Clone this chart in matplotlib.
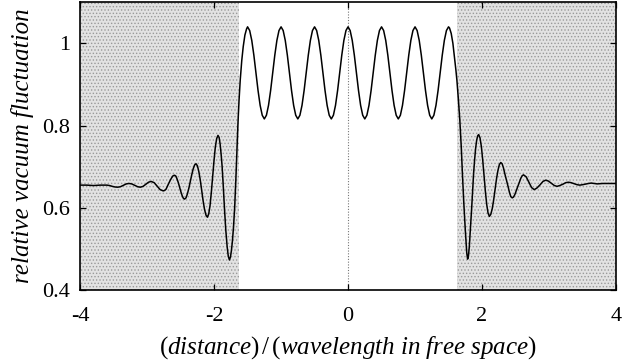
import matplotlib
matplotlib.use("Agg")
import matplotlib.pyplot as plt
import numpy as np

plt.rcParams['font.family'] = 'Liberation Serif'
plt.rcParams['mathtext.fontset'] = 'custom'
plt.rcParams['mathtext.rm'] = 'Liberation Serif'
plt.rcParams['mathtext.it'] = 'Liberation Serif:italic'
plt.rcParams['hatch.linewidth'] = 0.6

# left tail (outside the slab)
x_left = [-4.00, -3.90, -3.80, -3.70, -3.60, -3.56, -3.52, -3.48, -3.44,
          -3.40, -3.355, -3.31, -3.27, -3.23, -3.185, -3.14, -3.10,
          -3.06, -3.02, -2.98, -2.94, -2.895, -2.85, -2.805, -2.76,
          -2.739, -2.718, -2.696, -2.675, -2.654, -2.633, -2.611, -2.59,
          -2.571, -2.553, -2.534, -2.515, -2.496, -2.478, -2.459, -2.44,
          -2.419, -2.398, -2.376, -2.355, -2.334, -2.313, -2.291, -2.27,
          -2.249, -2.228, -2.206, -2.185, -2.164, -2.143, -2.121, -2.10,
          -2.080, -2.060, -2.041, -2.021, -2.001, -1.982, -1.962, -1.942,
          -1.925, -1.91, -1.895, -1.88, -1.862, -1.844, -1.825, -1.805, -1.788, -1.771,
          -1.756, -1.742, -1.727, -1.71, -1.693, -1.676, -1.66, -1.645, -1.628,
          -1.61, -1.587, -1.565, -1.54, -1.515]
y_left = [0.655, 0.655, 0.654, 0.655, 0.655, 0.654, 0.652, 0.6505, 0.650,
          0.651, 0.6545, 0.658, 0.659, 0.658, 0.6545, 0.651, 0.650,
          0.652, 0.657, 0.662, 0.664, 0.661, 0.6525, 0.644, 0.641,
          0.642, 0.645, 0.653, 0.660, 0.667, 0.673, 0.678, 0.679,
          0.677, 0.670, 0.661, 0.650, 0.639, 0.630, 0.623, 0.621,
          0.624, 0.634, 0.648, 0.664, 0.680, 0.694, 0.704, 0.707,
          0.702, 0.688, 0.667, 0.642, 0.617, 0.596, 0.582, 0.577,
          0.585, 0.606, 0.638, 0.6765, 0.715, 0.747, 0.768, 0.776,
          0.771, 0.755, 0.730, 0.700, 0.650, 0.595, 0.545, 0.505, 0.482, 0.473,
          0.480, 0.495, 0.518, 0.553, 0.600, 0.665, 0.735, 0.800, 0.860,
          0.910, 0.958, 0.992, 1.020, 1.035]

# inside the slab, sampled every 1/32 wavelength from -1.5 to 1.5
x_slab = np.linspace(-1.5, 1.5, 97)
y_slab = [1.040, 1.031, 1.007, 0.971, 0.928, 0.885, 0.849, 0.825,
          0.816, 0.825, 0.849, 0.885, 0.928, 0.971, 1.007, 1.031,
          1.040, 1.031, 1.007, 0.971, 0.928, 0.885, 0.849, 0.825,
          0.816, 0.825, 0.849, 0.885, 0.928, 0.971, 1.007, 1.031,
          1.040, 1.031, 1.007, 0.971, 0.928, 0.885, 0.849, 0.825,
          0.816, 0.825, 0.849, 0.885, 0.928, 0.971, 1.007, 1.031,
          1.040, 1.031, 1.007, 0.971, 0.928, 0.885, 0.849, 0.825,
          0.816, 0.825, 0.849, 0.885, 0.928, 0.971, 1.007, 1.031,
          1.040, 1.031, 1.007, 0.971, 0.928, 0.885, 0.849, 0.825,
          0.816, 0.825, 0.849, 0.885, 0.928, 0.971, 1.007, 1.031,
          1.040, 1.031, 1.007, 0.971, 0.928, 0.885, 0.849, 0.825,
          0.816, 0.825, 0.849, 0.885, 0.928, 0.971, 1.007, 1.031,
          1.040]

# right tail
x_right = [1.515, 1.54, 1.565, 1.59, 1.61, 1.625, 1.645, 1.669, 1.69, 1.708,
           1.728, 1.747, 1.762, 1.772, 1.785, 1.797, 1.81, 1.827, 1.844,
           1.86, 1.875, 1.89, 1.905, 1.92, 1.935, 1.95,
           1.97, 1.99, 2.01, 2.03, 2.05, 2.07, 2.09, 2.11,
           2.131, 2.153, 2.174, 2.195, 2.216, 2.238, 2.259, 2.28,
           2.30, 2.32, 2.34, 2.365, 2.39, 2.41, 2.43, 2.45,
           2.47, 2.49, 2.51, 2.535, 2.56, 2.58, 2.60, 2.62,
           2.66, 2.70, 2.74, 2.78, 2.82, 2.865, 2.91, 2.95,
           2.99, 3.035, 3.08, 3.12, 3.16, 3.205, 3.25, 3.29,
           3.33, 3.375, 3.42, 3.46, 3.50, 3.545, 3.59, 3.63,
           3.72, 3.80, 3.90, 4.00]
y_right = [1.037, 1.024, 1.000, 0.965, 0.935, 0.910, 0.868, 0.812, 0.748, 0.680,
           0.612, 0.555, 0.515, 0.490, 0.475, 0.482, 0.505, 0.548, 0.595,
           0.643, 0.685, 0.718, 0.745, 0.764, 0.775, 0.778,
           0.770, 0.749, 0.717, 0.679, 0.640, 0.608, 0.587, 0.579,
           0.584, 0.598, 0.619, 0.645, 0.670, 0.691, 0.705, 0.710,
           0.707, 0.697, 0.683, 0.667, 0.651, 0.637, 0.627, 0.624,
           0.626, 0.632, 0.641, 0.652, 0.663, 0.672, 0.678, 0.680,
           0.675, 0.662, 0.649, 0.644, 0.648, 0.6555, 0.664, 0.667,
           0.665, 0.6595, 0.654, 0.652, 0.654, 0.657, 0.661, 0.662,
           0.661, 0.6585, 0.656, 0.655, 0.656, 0.6575, 0.659, 0.660,
           0.658, 0.659, 0.659, 0.659]

slab_edges = [-1.625, 1.625]

x = np.concatenate([x_left, x_slab, x_right])
y = np.concatenate([y_left, y_slab, y_right])

fig = plt.figure(figsize=(6.26, 3.62), dpi=100)
ax = fig.add_axes([0.128, 0.199, 0.856, 0.795])

ax.axvspan(-4, slab_edges[0], facecolor='#e2e2e2', edgecolor='#9a9a9a',
           hatch='.....', linewidth=0, zorder=0)
ax.axvspan(slab_edges[1], 4, facecolor='#e2e2e2', edgecolor='#9a9a9a',
           hatch='.....', linewidth=0, zorder=0)
ax.axvline(0, color='#777777', linestyle=(0, (1, 1.5)), linewidth=0.8, zorder=1)

ax.plot(x, y, color='black', linewidth=1.1, zorder=3)

ax.set_xlim(-4, 4)
ax.set_ylim(0.4, 1.1)
ax.set_xticks([-4, -2, 0, 2, 4])
ax.set_xticklabels(['-4', '-2', '0', '2', '4'])
ax.set_yticks([0.4, 0.6, 0.8, 1.0])
ax.set_yticklabels(['0.4', '0.6', '0.8', '1'])
ax.tick_params(direction='in', top=True, right=True, length=4, width=0.9,
               labelsize=16)
ax.tick_params(axis='x', pad=12)
ax.tick_params(axis='y', pad=7)
for s in ax.spines.values():
    s.set_linewidth(1.2)

ax.set_xlabel(r'$(\mathit{distance})\,/\,(\mathit{wavelength\ in\ free\ space})$',
              fontsize=18, labelpad=6)
ax.set_ylabel('relative vacuum fluctuation', fontsize=18, style='italic',
              labelpad=6)

fig.savefig('out.png', dpi=100)
